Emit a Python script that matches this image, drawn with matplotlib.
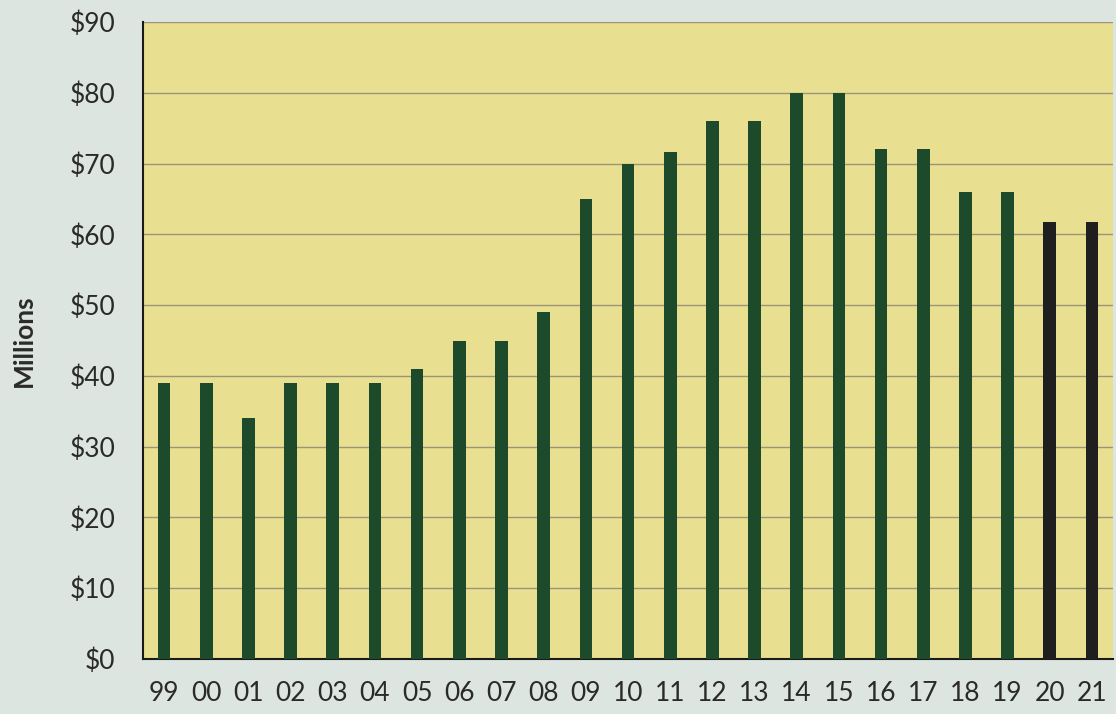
import matplotlib
matplotlib.use("Agg")
from matplotlib import pyplot as plt
import numpy as np

years = ["99", "00", "01", "02", "03", "04", "05", "06", "07", "08", "09", "10",
         "11", "12", "13", "14", "15", "16", "17", "18", "19", "20", "21"]
values = [39, 39, 34, 39, 39, 39, 41, 45, 45, 49, 65, 70,
          71.7, 76, 76, 80, 80, 72, 72, 66, 66, 61.7, 61.7]
# last two years drawn darker in the original
bar_colors = ["#1d4a2b"] * 21 + ["#1f1f1f"] * 2

plt.rcParams['font.family'] = ['Lato', 'DejaVu Sans']

fig = plt.figure(figsize=(11.16, 7.14), dpi=100)
fig.patch.set_facecolor("#dde5e1")
ax = fig.add_axes([143 / 1116, 1 - 659 / 714, 970 / 1116, 637 / 714])
ax.set_facecolor("#e9df90")

x = np.arange(len(years))
ax.bar(x, values, width=0.3, color=bar_colors, zorder=3)

ax.set_xlim(-0.5, len(years) - 0.5)
ax.set_ylim(0, 90)
ax.set_yticks(np.arange(0, 91, 10))
ax.set_yticklabels(["$%d" % v for v in range(0, 91, 10)])
ax.set_xticks(x)
ax.set_xticklabels(years)
ax.yaxis.grid(True, color="#9a9478", linewidth=1.0, zorder=1)
ax.tick_params(axis="both", length=0, labelsize=19, colors="#2a2a2a")
ax.tick_params(axis="x", pad=16)
ax.tick_params(axis="y", pad=20)

for s in ["top", "right"]:
    ax.spines[s].set_visible(False)
ax.spines["left"].set_color("#1a1a1a")
ax.spines["left"].set_linewidth(1.5)
ax.spines["bottom"].set_color("#1a1a1a")
ax.spines["bottom"].set_linewidth(1.5)

ax.set_ylabel("Millions", fontsize=19, fontweight="bold", color="#2a2a2a", labelpad=24)

fig.savefig("out.png", dpi=100, facecolor=fig.get_facecolor())
